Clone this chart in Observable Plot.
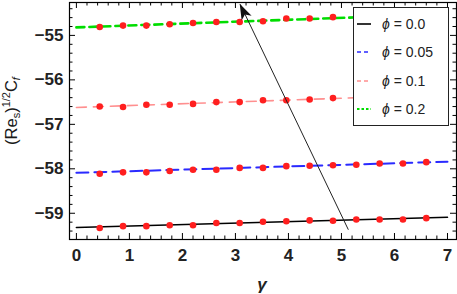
<!DOCTYPE html>
<html><head><meta charset="utf-8">
<script src="https://cdn.jsdelivr.net/npm/d3@7"></script>
<script src="https://cdn.jsdelivr.net/npm/@observablehq/plot@0.6"></script>
<style>body{margin:0;background:#fff}</style>
</head><body><div id="chart"></div>
<script>
// ---- data ----
const seriesKeys = ["0.0", "0.05", "0.1", "0.2"];
const legendLabels = ["0.0", "0.05", "0.1", "0.2"];
const lineColors = ["#000000", "#2a2aff", "#ff8f8f", "#00dd00"];
const lineDash = [null, "12,6", "10,7", "8,5"];
const lineWidth = [1.6, 2, 1.6, 2.6];

const gammaLine = [0, 7];
const line00  = [-59.32, -59.09];
const line005 = [-58.09, -57.84];
const line01  = [-56.62, -56.33];
const line02  = [-54.82, -54.52];

const gammaPts = [0.44, 0.88, 1.32, 1.76, 2.2, 2.64, 3.08, 3.52, 3.96, 4.4, 4.84, 5.28, 5.72, 6.16, 6.6];
const pts00  = [-59.33, -59.29, -59.29, -59.27, -59.27, -59.22, -59.22, -59.19, -59.18, -59.16, -59.17, -59.14, -59.14, -59.14, -59.11];
const pts005 = [-58.11, -58.08, -58.08, -58.05, -58.02, -58.02, -57.98, -57.98, -57.94, -57.93, -57.92, -57.91, -57.88, -57.88, -57.85];
const pts01  = [-56.60, -56.61, -56.56, -56.56, -56.54, -56.50, -56.50, -56.46, -56.46, -56.44, -56.41, -56.39, -56.37, -56.35, -56.34];
const pts02  = [-54.81, -54.78, -54.78, -54.75, -54.72, -54.70, -54.70, -54.68, -54.62, -54.62, -54.59, -54.57, -54.55, -54.54, -54.52];

const xTicks = [0, 1, 2, 3, 4, 5, 6, 7];
const yTicks = [-59, -58, -57, -56, -55];
const xMinor = [0.2,0.4,0.6,0.8,1.2,1.4,1.6,1.8,2.2,2.4,2.6,2.8,3.2,3.4,3.6,3.8,4.2,4.4,4.6,4.8,5.2,5.4,5.6,5.8,6.2,6.4,6.6,6.8];
const yMinor = [-59.4,-59.2,-58.8,-58.6,-58.4,-58.2,-57.8,-57.6,-57.4,-57.2,-56.8,-56.6,-56.4,-56.2,-55.8,-55.6,-55.4,-55.2,-54.8,-54.6,-54.4];
const arrowData = [{x1: 5.13, y1: -59.37, x2: 3.09, y2: -54.30}];

// ---- build tables ----
const lineSets = [line00, line005, line01, line02];
const ptSets = [pts00, pts005, pts01, pts02];
const lines = lineSets.map((vals, i) => gammaLine.map((g, j) => ({g, v: vals[j], k: seriesKeys[i]})));
const points = ptSets.flatMap(vals => gammaPts.map((g, j) => ({g, v: vals[j]})));

const W = 457, H = 294, mL = 69, mR = 1, mT = 2, mB = 55;
const iW = W - mL - mR, iH = H - mT - mB;
const FONT = "'Liberation Sans', Arial, sans-serif";

const marks = [];
lines.forEach((data, i) => {
  marks.push(Plot.line(data, {x: "g", y: "v", stroke: lineColors[i], strokeWidth: lineWidth[i],
    strokeDasharray: lineDash[i] || undefined}));
});
marks.push(Plot.dot(points, {x: "g", y: "v", r: 3.3, fill: "#ff1f1f", stroke: "none"}));
marks.push(Plot.link(arrowData, {x1: "x1", y1: "y1", x2: "x2", y2: "y2", stroke: "#222", strokeWidth: 1}));
// ticks (inward, all four sides)
marks.push(Plot.tickX(xTicks, {x: d => d, insetTop: iH - 6, stroke: "#000"}));
marks.push(Plot.tickX(xTicks, {x: d => d, insetBottom: iH - 6, stroke: "#000"}));
marks.push(Plot.tickX(xMinor, {x: d => d, insetTop: iH - 3.5, stroke: "#000"}));
marks.push(Plot.tickX(xMinor, {x: d => d, insetBottom: iH - 3.5, stroke: "#000"}));
marks.push(Plot.tickY(yTicks, {y: d => d, insetRight: iW - 6, stroke: "#000"}));
marks.push(Plot.tickY(yTicks, {y: d => d, insetLeft: iW - 6, stroke: "#000"}));
marks.push(Plot.tickY(yMinor, {y: d => d, insetRight: iW - 3.5, stroke: "#000"}));
marks.push(Plot.tickY(yMinor, {y: d => d, insetLeft: iW - 3.5, stroke: "#000"}));
marks.push(Plot.frame({stroke: "#000", strokeWidth: 1.2}));
marks.push(Plot.axisX(xTicks, {tickSize: 0, tickPadding: 9, tickFormat: d => String(d), label: null}));
marks.push(Plot.axisY(yTicks, {tickSize: 0, tickPadding: 6, tickFormat: d => "\u2212" + Math.abs(d), label: null}));

const plot = Plot.plot({
  width: W, height: H,
  marginLeft: mL, marginRight: mR, marginTop: mT, marginBottom: mB,
  x: {domain: [-0.13, 7.17]},
  y: {domain: [-59.59, -54.26]},
  style: {fontFamily: FONT, fontSize: "17px", fontWeight: "bold", color: "#222", background: "#fff", overflow: "visible"},
  marks
});
document.getElementById("chart").appendChild(plot);

// ---- annotations added after the library lays things out ----
const svg = d3.select(plot);
const sx = plot.scale("x"), sy = plot.scale("y");
const a = arrowData[0];
const tx = sx.apply(a.x2), ty = sy.apply(a.y2), bx = sx.apply(a.x1), by = sy.apply(a.y1);
const ang = Math.atan2(ty - by, tx - bx);
const hl = 16, hw = 5.5;
const cx = tx - hl * Math.cos(ang), cy = ty - hl * Math.sin(ang);
const px = -Math.sin(ang), py = Math.cos(ang);
svg.append("polygon")
  .attr("points", [[tx, ty], [cx + hw * px, cy + hw * py], [tx - hl * 0.75 * Math.cos(ang), ty - hl * 0.75 * Math.sin(ang)], [cx - hw * px, cy - hw * py]].map(p => p.join(",")).join(" "))
  .attr("fill", "#111");

// legend
const lg = svg.append("g").attr("font-family", FONT).attr("font-size", 14)
  .attr("font-weight", "normal").attr("text-anchor", "start");
lg.append("rect").attr("x", 353.5).attr("y", 7.5).attr("width", 95).attr("height", 118).attr("fill", "#fff").attr("stroke", "#222");
const rowY = [24, 52, 81, 109];
legendLabels.forEach((lab, i) => {
  lg.append("line").attr("x1", 357).attr("x2", 371).attr("y1", rowY[i]).attr("y2", rowY[i])
    .attr("stroke", lineColors[i]).attr("stroke-width", i === 3 ? 2.2 : 1.6)
    .attr("stroke-dasharray", i === 0 ? null : (i === 3 ? "2.5,2" : "4,3"));
  const t = lg.append("text").attr("x", 382).attr("y", rowY[i]).attr("dy", "0.35em").attr("fill", "#222");
  t.append("tspan").attr("font-style", "italic").text("\u03d5");
  t.append("tspan").text("\u00a0=\u00a0" + lab);
});

// y label
const yl = svg.append("text").attr("transform", "translate(17,111) rotate(-90)")
  .attr("text-anchor", "middle").attr("font-family", FONT).attr("font-weight", "normal")
  .attr("font-size", 16.5).attr("fill", "#1a1a1a");
yl.append("tspan").text("(Re");
yl.append("tspan").attr("font-size", 11).attr("dy", 3).text("s");
yl.append("tspan").attr("dy", -3).text(")");
yl.append("tspan").attr("font-size", 11).attr("dy", -7).text("1/2");
yl.append("tspan").attr("dy", 7).text("C");
yl.append("tspan").attr("font-size", 11).attr("font-style", "italic").attr("dy", 3).text("f");

// x label
svg.append("text").attr("x", 262).attr("y", 290).attr("text-anchor", "middle")
  .attr("font-family", FONT).attr("font-size", 17)
  .attr("font-style", "italic").attr("font-weight", "bold").attr("fill", "#222").text("\u03b3");
</script></body></html>
